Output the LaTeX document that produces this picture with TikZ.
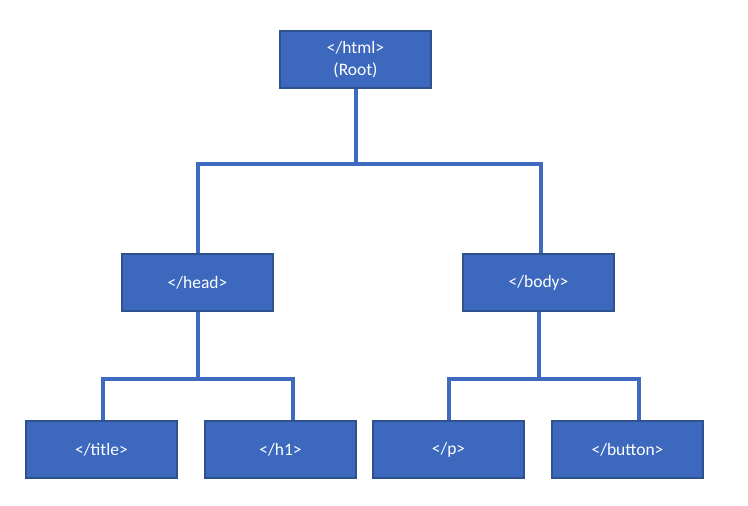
\documentclass[tikz,border=0pt]{standalone}
\usepackage{fontspec}
\setmainfont{Carlito}
\definecolor{boxblue}{RGB}{60,104,190}
\definecolor{boxedge}{RGB}{47,82,143}
\definecolor{linkblue}{RGB}{62,106,192}
\tikzset{
  tag/.style={draw=boxedge, line width=1.2pt, fill=boxblue, text=white,
    minimum width=151pt, minimum height=57pt, inner sep=0pt, align=center,
    font=\fontsize{17.5}{21.5}\selectfont},
  link/.style={draw=linkblue, line width=4pt}
}
\begin{document}
\begin{tikzpicture}[x=1pt,y=-1pt]
          \useasboundingbox (0,0) rectangle (748,506);
          \draw (355.5,59.5) node[tag] (root) {</html>\\(Root)};
          \draw (197.5,282.5) node[tag] (head) {</head>};
          \draw (538.5,282.5) node[tag] (body) {</body>};
          \draw (101.5,449.5) node[tag] (title) {</title>};
          \draw (280.5,449.5) node[tag] (h1) {</h1>};
          \draw (448.5,449.5) node[tag] (p) {</p>};
          \draw (627.5,449.5) node[tag] (button) {</button>};

          \coordinate (rootj) at (355.5,163.5);
          \coordinate (headj) at (197.5,378.5);
          \coordinate (bodyj) at (538.5,378.5);

          \draw[link] (root.south) -- (rootj);
          \draw[link] ([xshift=0.5pt]head.north) |- (rootj) -| ([xshift=2.5pt]body.north);
          \draw[link] (head.south) -- (headj);
          \draw[link] ([xshift=1.5pt]title.north) |- (headj) -| ([xshift=12.5pt]h1.north);
          \draw[link] (body.south) -- (bodyj);
          \draw[link] ([xshift=0.5pt]p.north) |- (bodyj) -| ([xshift=11.5pt]button.north);
      \end{tikzpicture}
\end{document}
